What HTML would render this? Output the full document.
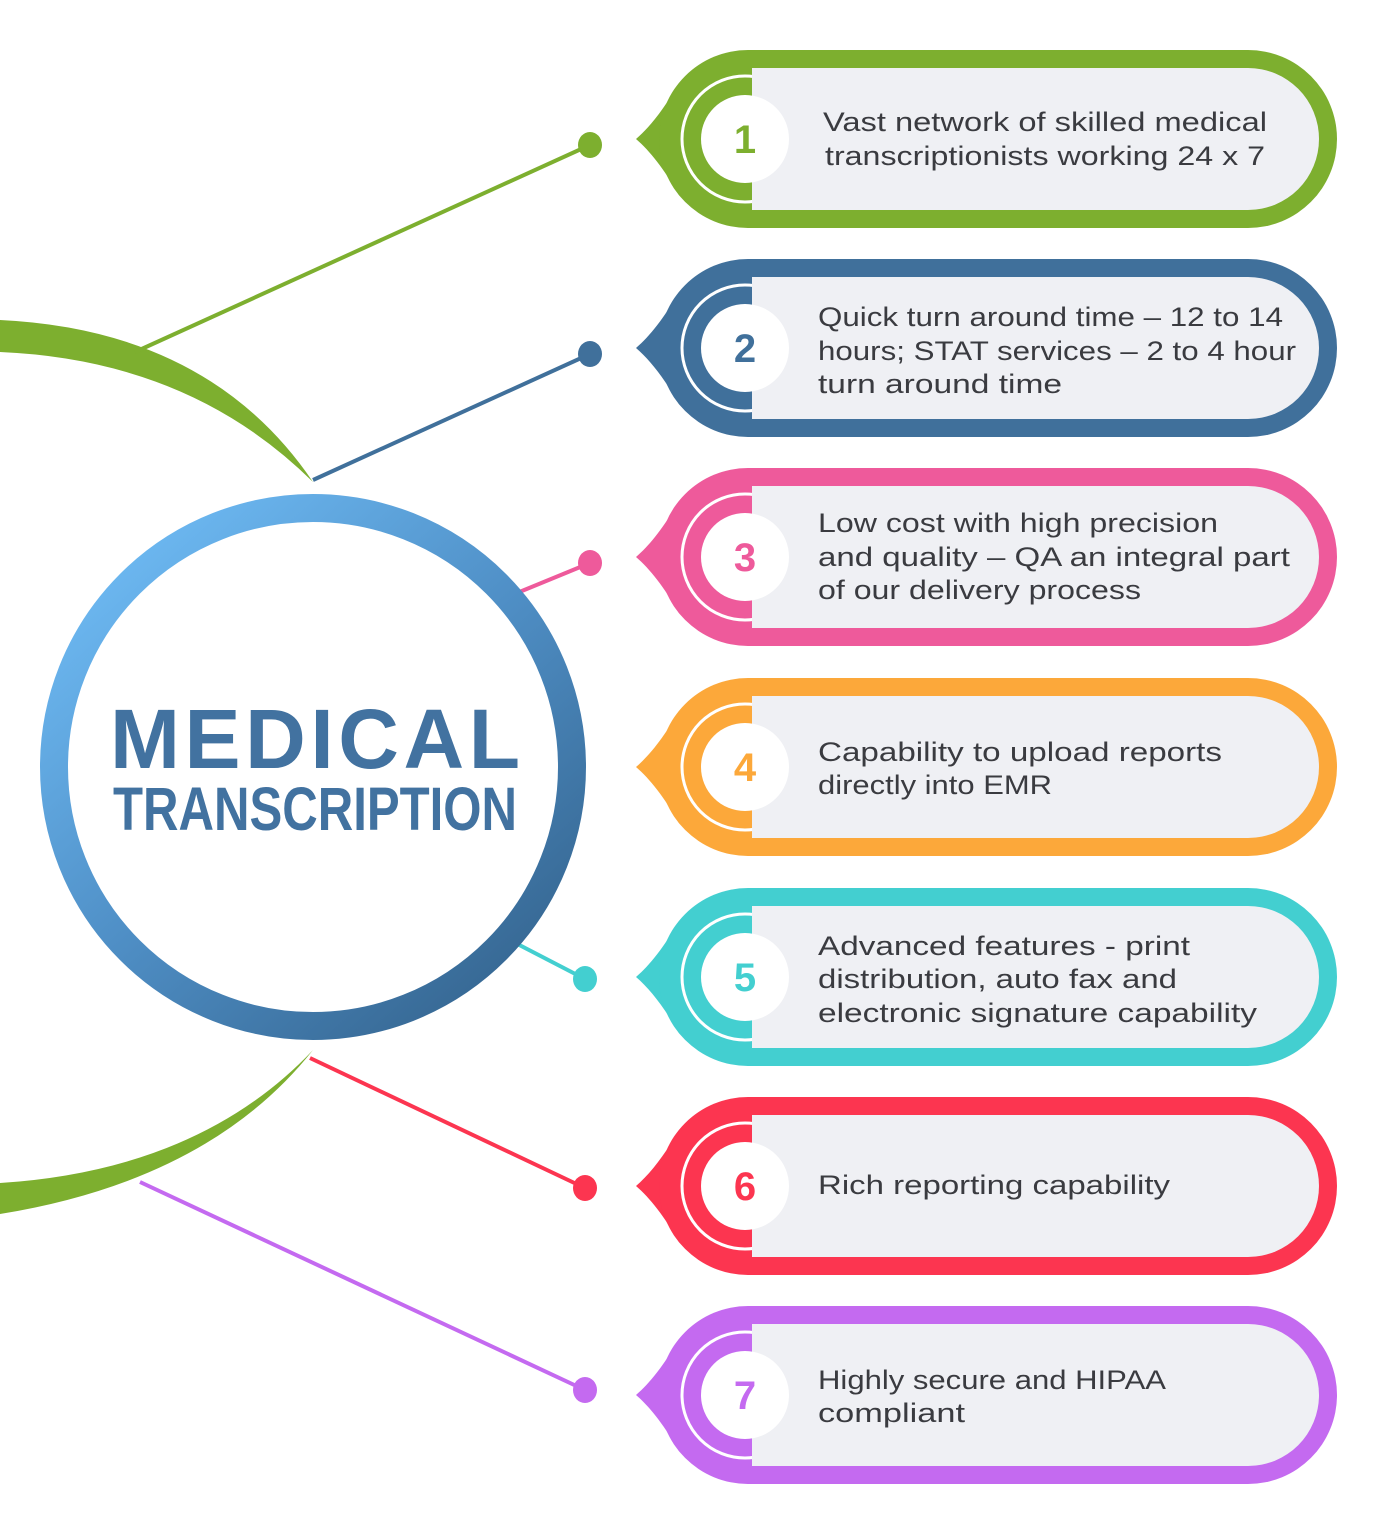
<!DOCTYPE html>
<html><head><meta charset="utf-8"><style>
html,body{margin:0;padding:0;background:#fff;}
svg{display:block;}
.t{font-family:"Liberation Sans",sans-serif;font-size:27px;fill:#3a3b40;}
.n{font-family:"Liberation Sans",sans-serif;font-size:40px;font-weight:bold;text-anchor:middle;}
</style></head><body>
<svg width="1396" height="1536" viewBox="0 0 1396 1536" xmlns="http://www.w3.org/2000/svg">
<defs>
<linearGradient id="g" x1="0.15" y1="0.1" x2="0.85" y2="0.9">
<stop offset="0" stop-color="#6bb6ef"/><stop offset="0.5" stop-color="#4f8fc6"/><stop offset="1" stop-color="#386a96"/>
</linearGradient>
<path id="tip" d="M636,0 C650,-12 664,-30 679,-56 L720,-56 L720,56 L679,56 C664,30 650,12 636,0 Z"/>
</defs>
<path d="M0,320 Q210,330 313,482 Q190,360 0,352 Z" fill="#7daf2f"/>
<path d="M313,1050 Q210,1180 0,1214 L0,1183 Q200,1170 313,1050 Z" fill="#7daf2f"/>
<g stroke-width="4">
<line x1="135" y1="352" x2="590" y2="145" stroke="#7daf2f"/>
<line x1="313" y1="480" x2="590" y2="354" stroke="#40709b"/>
<line x1="500" y1="600" x2="590" y2="563" stroke="#ee5a9b"/>
<line x1="500" y1="935" x2="585" y2="979" stroke="#43cfd0"/>
<line x1="310" y1="1058" x2="585" y2="1188" stroke="#fc3550"/>
<line x1="140" y1="1182" x2="585" y2="1390" stroke="#c46af0"/>
</g>
<ellipse cx="590" cy="145" rx="12" ry="13" fill="#7daf2f"/>
<ellipse cx="590" cy="354" rx="12" ry="13" fill="#40709b"/>
<ellipse cx="590" cy="563" rx="12" ry="13" fill="#ee5a9b"/>
<ellipse cx="585" cy="979" rx="12" ry="13" fill="#43cfd0"/>
<ellipse cx="585" cy="1188" rx="12" ry="13" fill="#fc3550"/>
<ellipse cx="585" cy="1390" rx="12" ry="13" fill="#c46af0"/>
<circle cx="313" cy="767" r="259" fill="#fff" stroke="url(#g)" stroke-width="28"/>
<text x="110" y="768" font-family="Liberation Sans,sans-serif" font-weight="bold" font-size="84" fill="#4272a0" textLength="410" lengthAdjust="spacing">MEDICAL</text>
<text x="113" y="830" font-family="Liberation Sans,sans-serif" font-weight="bold" font-size="61" fill="#4272a0" textLength="404" lengthAdjust="spacingAndGlyphs">TRANSCRIPTION</text>

<g transform="translate(0,139)">
<use href="#tip" fill="#7daf2f"/><circle cx="748" cy="0" r="89" fill="#7daf2f"/>
<path d="M748,-89 L1248,-89 A89,89 0 0 1 1248,89 L748,89 Z" fill="#7daf2f"/>
<circle cx="745" cy="0" r="63" fill="none" stroke="#fff" stroke-width="3"/>
<path d="M752,-71 L1248,-71 A71,71 0 0 1 1248,71 L752,71 Z" fill="#eff0f4"/>
<circle cx="745" cy="0" r="44" fill="#fff"/>
<text class="n" x="745" y="14" fill="#7daf2f">1</text>
<text class="t" x="823" y="-8" textLength="444" lengthAdjust="spacingAndGlyphs">Vast network of skilled medical</text>
<text class="t" x="825" y="26" textLength="440" lengthAdjust="spacingAndGlyphs">transcriptionists working 24 x 7</text>
</g>
<g transform="translate(0,348)">
<use href="#tip" fill="#40709b"/><circle cx="748" cy="0" r="89" fill="#40709b"/>
<path d="M748,-89 L1248,-89 A89,89 0 0 1 1248,89 L748,89 Z" fill="#40709b"/>
<circle cx="745" cy="0" r="63" fill="none" stroke="#fff" stroke-width="3"/>
<path d="M752,-71 L1248,-71 A71,71 0 0 1 1248,71 L752,71 Z" fill="#eff0f4"/>
<circle cx="745" cy="0" r="44" fill="#fff"/>
<text class="n" x="745" y="14" fill="#40709b">2</text>
<text class="t" x="818" y="-22" textLength="465" lengthAdjust="spacingAndGlyphs">Quick turn around time – 12 to 14</text>
<text class="t" x="818" y="12" textLength="478" lengthAdjust="spacingAndGlyphs">hours; STAT services – 2 to 4 hour</text>
<text class="t" x="818" y="45" textLength="244" lengthAdjust="spacingAndGlyphs">turn around time</text>
</g>
<g transform="translate(0,557)">
<use href="#tip" fill="#ee5a9b"/><circle cx="748" cy="0" r="89" fill="#ee5a9b"/>
<path d="M748,-89 L1248,-89 A89,89 0 0 1 1248,89 L748,89 Z" fill="#ee5a9b"/>
<circle cx="745" cy="0" r="63" fill="none" stroke="#fff" stroke-width="3"/>
<path d="M752,-71 L1248,-71 A71,71 0 0 1 1248,71 L752,71 Z" fill="#eff0f4"/>
<circle cx="745" cy="0" r="44" fill="#fff"/>
<text class="n" x="745" y="14" fill="#ee5a9b">3</text>
<text class="t" x="818" y="-25" textLength="400" lengthAdjust="spacingAndGlyphs">Low cost with high precision</text>
<text class="t" x="818" y="9" textLength="472" lengthAdjust="spacingAndGlyphs">and quality – QA an integral part</text>
<text class="t" x="818" y="42" textLength="323" lengthAdjust="spacingAndGlyphs">of our delivery process</text>
</g>
<g transform="translate(0,767)">
<use href="#tip" fill="#fca83a"/><circle cx="748" cy="0" r="89" fill="#fca83a"/>
<path d="M748,-89 L1248,-89 A89,89 0 0 1 1248,89 L748,89 Z" fill="#fca83a"/>
<circle cx="745" cy="0" r="63" fill="none" stroke="#fff" stroke-width="3"/>
<path d="M752,-71 L1248,-71 A71,71 0 0 1 1248,71 L752,71 Z" fill="#eff0f4"/>
<circle cx="745" cy="0" r="44" fill="#fff"/>
<text class="n" x="745" y="14" fill="#fca83a">4</text>
<text class="t" x="818" y="-6" textLength="404" lengthAdjust="spacingAndGlyphs">Capability to upload reports</text>
<text class="t" x="818" y="27" textLength="234" lengthAdjust="spacingAndGlyphs">directly into EMR</text>
</g>
<g transform="translate(0,977)">
<use href="#tip" fill="#43cfd0"/><circle cx="748" cy="0" r="89" fill="#43cfd0"/>
<path d="M748,-89 L1248,-89 A89,89 0 0 1 1248,89 L748,89 Z" fill="#43cfd0"/>
<circle cx="745" cy="0" r="63" fill="none" stroke="#fff" stroke-width="3"/>
<path d="M752,-71 L1248,-71 A71,71 0 0 1 1248,71 L752,71 Z" fill="#eff0f4"/>
<circle cx="745" cy="0" r="44" fill="#fff"/>
<text class="n" x="745" y="14" fill="#43cfd0">5</text>
<text class="t" x="818" y="-22" textLength="372" lengthAdjust="spacingAndGlyphs">Advanced features - print</text>
<text class="t" x="818" y="11" textLength="359" lengthAdjust="spacingAndGlyphs">distribution, auto fax and</text>
<text class="t" x="818" y="45" textLength="439" lengthAdjust="spacingAndGlyphs">electronic signature capability</text>
</g>
<g transform="translate(0,1186)">
<use href="#tip" fill="#fc3550"/><circle cx="748" cy="0" r="89" fill="#fc3550"/>
<path d="M748,-89 L1248,-89 A89,89 0 0 1 1248,89 L748,89 Z" fill="#fc3550"/>
<circle cx="745" cy="0" r="63" fill="none" stroke="#fff" stroke-width="3"/>
<path d="M752,-71 L1248,-71 A71,71 0 0 1 1248,71 L752,71 Z" fill="#eff0f4"/>
<circle cx="745" cy="0" r="44" fill="#fff"/>
<text class="n" x="745" y="14" fill="#fc3550">6</text>
<text class="t" x="818" y="8" textLength="352" lengthAdjust="spacingAndGlyphs">Rich reporting capability</text>
</g>
<g transform="translate(0,1395)">
<use href="#tip" fill="#c46af0"/><circle cx="748" cy="0" r="89" fill="#c46af0"/>
<path d="M748,-89 L1248,-89 A89,89 0 0 1 1248,89 L748,89 Z" fill="#c46af0"/>
<circle cx="745" cy="0" r="63" fill="none" stroke="#fff" stroke-width="3"/>
<path d="M752,-71 L1248,-71 A71,71 0 0 1 1248,71 L752,71 Z" fill="#eff0f4"/>
<circle cx="745" cy="0" r="44" fill="#fff"/>
<text class="n" x="745" y="14" fill="#c46af0">7</text>
<text class="t" x="818" y="-6" textLength="348" lengthAdjust="spacingAndGlyphs">Highly secure and HIPAA</text>
<text class="t" x="818" y="27" textLength="147" lengthAdjust="spacingAndGlyphs">compliant</text>
</g>
</svg>
</body></html>
